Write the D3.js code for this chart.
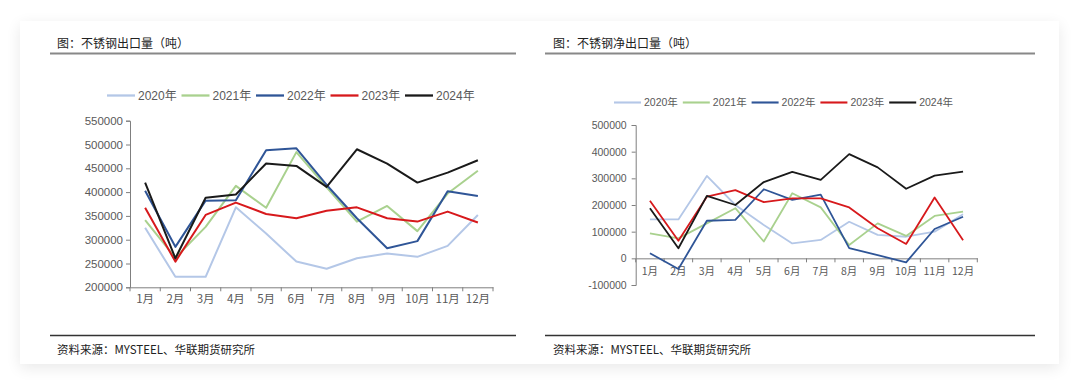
<!DOCTYPE html>
<html>
<head>
<meta charset="utf-8">
<script src="https://cdn.jsdelivr.net/npm/d3@7"></script>
<style>
html,body{margin:0;padding:0;background:#fff;width:1080px;height:385px;overflow:hidden;}
#card{position:absolute;left:20px;top:21px;width:1039px;height:343px;background:#fff;box-shadow:0 4px 14px rgba(0,0,0,0.09);}
svg{position:absolute;left:0;top:0;}
text{font-family:"Liberation Sans",Arial,"Noto Sans CJK SC",sans-serif;}
</style>
</head>
<body>
<div id="card"></div>
<svg id="chart" width="1080" height="385"></svg>
<script>
const months = ["1月","2月","3月","4月","5月","6月","7月","8月","9月","10月","11月","12月"];
const years = ["2020年","2021年","2022年","2023年","2024年"];
const colors = ["#b4c7e7","#a9d18e","#2f5597","#d7191c","#1a1a1a"];

// 不锈钢出口量（吨）
const export2020 = [325000,222000,222000,368000,313000,254000,239000,261000,271000,264000,287000,352000];
const export2021 = [341000,262000,327000,413000,367000,484000,410000,338000,371000,318000,397000,445000];
const export2022 = [403000,285000,382000,383000,488000,492000,415000,345000,282000,297000,402000,392000];
const export2023 = [367000,254000,352000,378000,354000,345000,361000,368000,345000,338000,359000,336000];
const export2024 = [420000,261000,388000,395000,460000,455000,411000,490000,460000,420000,441000,467000];
const exportTicks = [200000,250000,300000,350000,400000,450000,500000,550000];

// 不锈钢净出口量（吨）
const net2020 = [146000,146000,309000,200000,125000,56000,69000,137000,88000,81000,100000,165000];
const net2021 = [94000,75000,131000,188000,63000,244000,191000,50000,131000,84000,159000,175000];
const net2022 = [19000,-40000,141000,144000,259000,219000,239000,38000,12000,-15000,110000,156000];
const net2023 = [216000,66000,231000,256000,211000,225000,225000,191000,113000,54000,228000,68000];
const net2024 = [188000,38000,234000,200000,286000,324000,294000,391000,341000,261000,310000,325000];
const netTicks = [-100000,0,100000,200000,300000,400000,500000];

const svg = d3.select("#chart");

function panel(cfg){
  const g = svg.append("g");
  g.append("text").attr("x",cfg.titleX).attr("y",48).attr("font-size",12)
    .attr("fill","#222").style("font-family","'Noto Sans CJK SC',sans-serif").text(cfg.title);
  g.append("line").attr("x1",cfg.lineX1).attr("x2",cfg.lineX2).attr("y1",53.5).attr("y2",53.5)
    .attr("stroke","#888").attr("stroke-width",2.2);
  g.append("line").attr("x1",cfg.lineX1).attr("x2",cfg.lineX2).attr("y1",335.5).attr("y2",335.5)
    .attr("stroke","#333").attr("stroke-width",1.3);
  g.append("text").attr("x",cfg.titleX).attr("y",354).attr("font-size",11.5)
    .attr("fill","#222").style("font-family","'Noto Sans CJK SC',sans-serif")
    .text("资料来源：MYSTEEL、华联期货研究所");

  const x = d3.scaleBand().domain(months).range([cfg.x0,cfg.x1]);
  const y = d3.scaleLinear().domain(cfg.domain).range([cfg.yBottom,cfg.yTop]);

  const ya = g.append("g").attr("transform",`translate(${cfg.x0},0)`)
    .call(d3.axisLeft(y).tickValues(cfg.ticks).tickSize(4).tickPadding(cfg.yPad).tickFormat(d=>String(d)));
  ya.select(".domain").attr("stroke","#7f7f7f");
  ya.selectAll(".tick line").attr("stroke","#7f7f7f");
  ya.selectAll(".tick text").attr("fill","#595959").attr("font-size",cfg.fs).style("font-family","'Liberation Sans',Arial,sans-serif");

  const xa = g.append("g").attr("transform",`translate(0,${y(cfg.xAxisAt)})`)
    .call(d3.axisBottom(x).tickSize(0).tickPadding(cfg.xPad));
  xa.select(".domain").attr("stroke","#7f7f7f");
  xa.selectAll(".tick text").attr("fill","#595959").attr("font-size",cfg.fs).style("font-family","'Noto Sans CJK SC',sans-serif");
  const bounds = months.map(m=>x(m)).concat([cfg.x1]);
  g.selectAll(null).data(bounds).enter().append("line")
    .attr("x1",d=>d).attr("x2",d=>d).attr("y1",y(cfg.xAxisAt)).attr("y2",y(cfg.xAxisAt)+4)
    .attr("stroke","#7f7f7f");

  const line = d3.line().x((d,i)=>x(months[i])+x.bandwidth()/2).y(d=>y(d));
  cfg.series.forEach((s,k)=>{
    g.append("path").datum(s).attr("d",line).attr("fill","none")
      .attr("stroke",colors[k]).attr("stroke-width",cfg.sw).attr("stroke-linejoin","round");
  });

  years.forEach((yr,k)=>{
    const lx = cfg.legX + k*cfg.legStep;
    g.append("line").attr("x1",lx).attr("x2",lx+cfg.legLen).attr("y1",cfg.legY).attr("y2",cfg.legY)
      .attr("stroke",colors[k]).attr("stroke-width",cfg.sw+0.3);
    g.append("text").attr("x",lx+cfg.legLen+3).attr("y",cfg.legY).attr("dy","0.35em")
      .attr("font-size",cfg.legFs).attr("fill","#595959")
      .style("font-family","'Liberation Sans',Arial,'Noto Sans CJK SC',sans-serif").text(yr);
  });
}

panel({
  title:"图：不锈钢出口量（吨）", titleX:57, lineX1:50, lineX2:516,
  x0:130, x1:493, yTop:120.7, yBottom:287.3, domain:[200000,550000], ticks:exportTicks,
  xAxisAt:200000, fs:11.5, yPad:3, xPad:8, sw:2,
  series:[export2020,export2021,export2022,export2023,export2024],
  legX:107, legStep:74.5, legLen:28, legY:95.5, legFs:12
});

panel({
  title:"图：不锈钢净出口量（吨）", titleX:553, lineX1:545, lineX2:1035,
  x0:635.7, x1:977.3, yTop:125, yBottom:285, domain:[-100000,500000], ticks:netTicks,
  xAxisAt:0, fs:10.5, yPad:5, xPad:9, sw:1.8,
  series:[net2020,net2021,net2022,net2023,net2024],
  legX:614, legStep:68.8, legLen:27, legY:102.5, legFs:10.5
});
</script>
</body>
</html>
